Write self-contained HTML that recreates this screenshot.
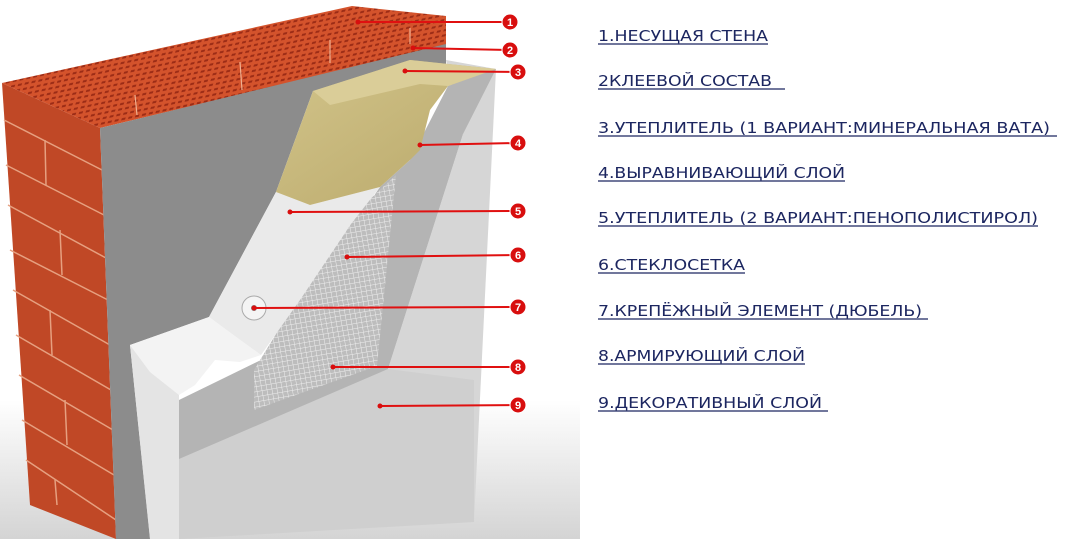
<!DOCTYPE html>
<html><head><meta charset="utf-8"><style>html,body{margin:0;padding:0;background:#fff}svg{display:block}</style></head>
<body>
<svg width="1074" height="539" viewBox="0 0 1074 539" xmlns="http://www.w3.org/2000/svg">
<defs>
<pattern id="holes" width="7" height="5" patternUnits="userSpaceOnUse" patternTransform="rotate(-12) skewX(-30)">
<rect width="7" height="5" fill="#d4532c"/><rect x="1" y="1" width="4" height="2" fill="#9c2c16"/>
</pattern>
<pattern id="mesh" width="5" height="5" patternUnits="userSpaceOnUse" patternTransform="rotate(-10)">
<rect width="5" height="5" fill="#bdbdbd"/><path d="M0 0H5M0 0V5" stroke="#eee" stroke-width="1"/>
</pattern>
<linearGradient id="shadow" x1="0" y1="0" x2="0" y2="1"><stop offset="0" stop-color="#fff"/><stop offset="1" stop-color="#d4d4d4"/></linearGradient>
<linearGradient id="wool" x1="0" y1="0" x2="1" y2="1"><stop offset="0" stop-color="#d2c48a"/><stop offset="1" stop-color="#b9a86a"/></linearGradient>
</defs>
<rect x="0" y="400" width="580" height="139" fill="url(#shadow)"/>
<!-- brick top -->
<polygon points="2,83 352,6 446,16 446,45 100,128" fill="url(#holes)"/>
<g stroke="#f0b090" stroke-width="1.2"><path d="M135,95 L137,115 M240,62 L242,90 M330,40 L330,63 M410,28 L410,44"/></g>
<!-- brick front -->
<polygon points="2,83 100,128 116,539 30,505" fill="#c04826"/>
<g stroke="#e6a080" stroke-width="1.5" fill="none">
<path d="M4,120 L102,170 M6,165 L104,215 M8,205 L106,258 M10,250 L108,300 M13,290 L110,345 M16,335 L111,390 M19,375 L113,430 M22,420 L114,475 M26,460 L116,520"/>
<path d="M45,140 L46,185 M60,230 L62,275 M50,310 L52,355 M65,400 L67,445 M55,480 L57,505"/>
</g>
<!-- grey adhesive -->
<polygon points="100,128 446,44 446,80 313,91 276,192 209,317 130,345 150,539 116,539" fill="#8c8c8c"/>
<!-- decorative slab -->
<polygon points="446,60 496,69 474,522 179,539 179,400 388,369 463,134" fill="#d6d6d6"/>
<polygon points="179,459 388,369 474,380 474,522 179,539" fill="#cfcfcf"/>
<!-- reinforcing / leveling layer -->
<polygon points="448,86 496,69 463,134 388,369 179,459 179,400 261,360 380,187 410,160" fill="#b4b4b4"/>
<!-- mesh -->
<polygon points="343,224 396,175 377,366 254,410 254,370" fill="url(#mesh)"/>
<!-- foam band -->
<polygon points="276,192 310,205 380,187 351,224 300,300 261,355 240,340 209,317" fill="#eaeaea"/>
<!-- foam block top -->
<polygon points="130,345 209,317 261,355 240,362 215,360 195,385 179,395 150,372" fill="#f3f3f3"/>
<!-- foam block front -->
<polygon points="130,345 150,372 179,395 179,539 150,539" fill="#e4e4e4"/>
<!-- mineral wool -->
<polygon points="313,91 410,60 496,69 448,86 430,110 420,150 410,160 380,187 310,205 276,192" fill="url(#wool)"/>
<polygon points="313,91 410,60 496,69 448,86 420,84 330,105" fill="#dacd98"/>
<!-- dowel -->
<circle cx="254" cy="308" r="12" fill="#f4f4f4" stroke="#aaa"/>
<circle cx="254" cy="308" r="3" fill="#888"/>
<!-- labels -->
<g stroke="#e01010" stroke-width="2">
<line x1="358" y1="22" x2="510" y2="22"/><line x1="413" y1="48" x2="510" y2="50"/><line x1="405" y1="71" x2="518" y2="72"/>
<line x1="420" y1="145" x2="518" y2="143"/><line x1="290" y1="212" x2="518" y2="211"/><line x1="347" y1="257" x2="518" y2="255"/>
<line x1="254" y1="308" x2="518" y2="307"/><line x1="333" y1="367" x2="518" y2="367"/><line x1="380" y1="406" x2="518" y2="405"/>
</g>
<g fill="#d80e0e">
<circle cx="358" cy="22" r="2.5"/><circle cx="413" cy="48" r="2.5"/><circle cx="405" cy="71" r="2.5"/><circle cx="420" cy="145" r="2.5"/>
<circle cx="290" cy="212" r="2.5"/><circle cx="347" cy="257" r="2.5"/><circle cx="254" cy="308" r="2.5"/><circle cx="333" cy="367" r="2.5"/><circle cx="380" cy="406" r="2.5"/>
</g>
<g fill="#d80e0e" stroke="#fff" stroke-width="1">
<circle cx="510" cy="22" r="8"/><circle cx="510" cy="50" r="8"/><circle cx="518" cy="72" r="8"/><circle cx="518" cy="143" r="8"/>
<circle cx="518" cy="211" r="8"/><circle cx="518" cy="255" r="8"/><circle cx="518" cy="307" r="8"/><circle cx="518" cy="367" r="8"/><circle cx="518" cy="405" r="8"/>
</g>
<g fill="#fff" font-family="Liberation Sans, sans-serif" font-weight="bold" font-size="11" text-anchor="middle">
<text x="510" y="26">1</text><text x="510" y="54">2</text><text x="518" y="76">3</text><text x="518" y="147">4</text>
<text x="518" y="215">5</text><text x="518" y="259">6</text><text x="518" y="311">7</text><text x="518" y="371">8</text><text x="518" y="409">9</text>
</g>
<g fill="#1c2660" font-family="DejaVu Sans, Liberation Sans, sans-serif" font-size="15">
<text x="598" y="41" textLength="170" lengthAdjust="spacingAndGlyphs">1.НЕСУЩАЯ СТЕНА</text>
<text x="598" y="86" textLength="174" lengthAdjust="spacingAndGlyphs">2КЛЕЕВОЙ СОСТАВ</text>
<text x="598" y="133" textLength="452" lengthAdjust="spacingAndGlyphs">3.УТЕПЛИТЕЛЬ (1 ВАРИАНТ:МИНЕРАЛЬНАЯ ВАТА)</text>
<text x="598" y="178" textLength="247" lengthAdjust="spacingAndGlyphs">4.ВЫРАВНИВАЮЩИЙ СЛОЙ</text>
<text x="598" y="223" textLength="440" lengthAdjust="spacingAndGlyphs">5.УТЕПЛИТЕЛЬ (2 ВАРИАНТ:ПЕНОПОЛИСТИРОЛ)</text>
<text x="598" y="270" textLength="147" lengthAdjust="spacingAndGlyphs">6.СТЕКЛОСЕТКА</text>
<text x="598" y="316" textLength="324" lengthAdjust="spacingAndGlyphs">7.КРЕПЁЖНЫЙ ЭЛЕМЕНТ (ДЮБЕЛЬ)</text>
<text x="598" y="361" textLength="207" lengthAdjust="spacingAndGlyphs">8.АРМИРУЮЩИЙ СЛОЙ</text>
<text x="598" y="408" textLength="224" lengthAdjust="spacingAndGlyphs">9.ДЕКОРАТИВНЫЙ СЛОЙ</text>
</g>
<g stroke="#1c2660" stroke-width="1.3">
<line x1="598" y1="44" x2="768" y2="44"/><line x1="598" y1="89" x2="785" y2="89"/><line x1="598" y1="136" x2="1057" y2="136"/>
<line x1="598" y1="181" x2="845" y2="181"/><line x1="598" y1="226" x2="1038" y2="226"/><line x1="598" y1="273" x2="745" y2="273"/>
<line x1="598" y1="319" x2="928" y2="319"/><line x1="598" y1="364" x2="805" y2="364"/><line x1="598" y1="411" x2="828" y2="411"/>
</g>
</svg>
</body></html>
